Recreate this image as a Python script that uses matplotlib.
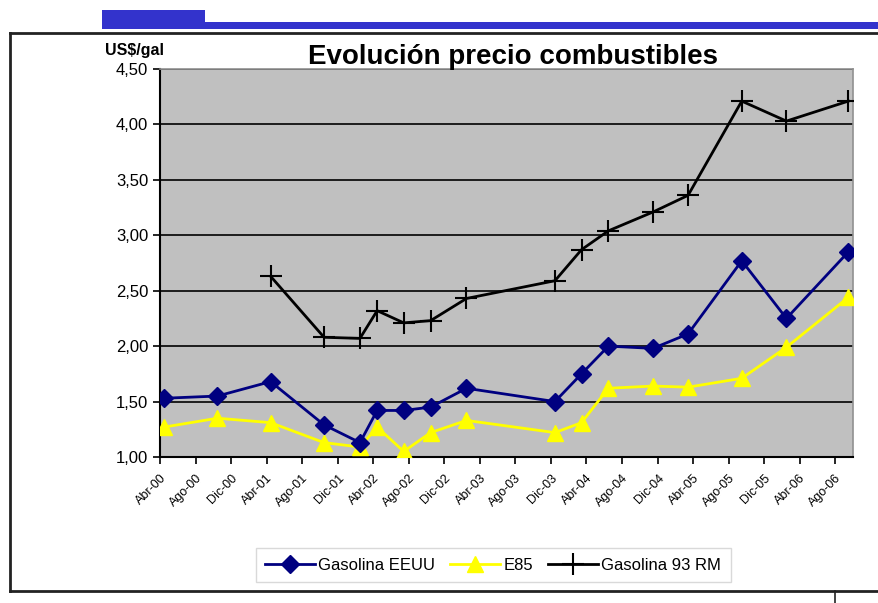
import pandas as pd
import numpy as np
import matplotlib
matplotlib.use('Agg')
import matplotlib.pyplot as plt
from matplotlib.patches import Rectangle
from matplotlib.lines import Line2D

plt.rcParams['font.family'] = ['Liberation Sans', 'DejaVu Sans']

# Data (US$/gal)
fechas = ['2000-04-15', '2000-10-15', '2001-04-15', '2001-10-15', '2002-02-15',
          '2002-04-15', '2002-07-15', '2002-10-15', '2003-02-15', '2003-12-15',
          '2004-03-15', '2004-06-15', '2004-11-15', '2005-03-15', '2005-09-15',
          '2006-02-15', '2006-09-15']
gasolina_eeuu = [1.53, 1.55, 1.68, 1.29, 1.13, 1.42, 1.42, 1.45, 1.62, 1.50,
                 1.75, 2.00, 1.98, 2.11, 2.77, 2.25, 2.85]
e85 = [1.27, 1.35, 1.31, 1.13, 1.09, 1.27, 1.05, 1.22, 1.33, 1.22,
       1.31, 1.62, 1.64, 1.63, 1.71, 1.99, 2.44]
gasolina_93 = [np.nan, np.nan, 2.63, 2.08, 2.07, 2.32, 2.21, 2.23, 2.43, 2.59,
               2.87, 3.04, 3.21, 3.36, 4.21, 4.03, 4.21]

tick_fechas = pd.date_range('2000-04-01', '2006-08-01', freq='4MS')
meses = {4: 'Abr', 8: 'Ago', 12: 'Dic'}
tick_labels = [meses[d.month] + '-' + d.strftime('%y') for d in tick_fechas]
y_ticks = [1.0, 1.5, 2.0, 2.5, 3.0, 3.5, 4.0, 4.5]

x = pd.to_datetime(fechas)

fig = plt.figure(figsize=(8.79, 6.03), dpi=100)
ax = fig.add_axes([0.182, 0.2421, 0.7884, 0.6435])
ax.set_facecolor('#C0C0C0')

ax.plot(x, gasolina_eeuu, color='#000080', lw=2, marker='D', ms=9, label='Gasolina EEUU', zorder=4)
ax.plot(x, e85, color='#FFFF00', lw=2, marker='^', ms=12, label='E85', zorder=3)
ax.plot(x, gasolina_93, color='black', lw=2, marker='+', ms=16, mew=1.5, label='Gasolina 93 RM', zorder=5)

ax.set_xlim(pd.Timestamp('2000-04-01'), pd.Timestamp('2006-10-01'))
ax.set_ylim(1.0, 4.5)
ax.set_yticks(y_ticks)
ax.set_yticklabels([('%.2f' % v).replace('.', ',') for v in y_ticks], fontsize=12)
ax.set_xticks(tick_fechas)
ax.set_xticklabels(tick_labels, rotation=45, ha='right', rotation_mode='anchor', fontsize=9)
ax.tick_params(axis='both', direction='out', length=5, width=1.2, color='black')
ax.tick_params(axis='x', pad=6)

ax.grid(axis='y', color='black', lw=1.2)
ax.set_axisbelow('line')
for s in ['top', 'right']:
    ax.spines[s].set_color('#909090')
    ax.spines[s].set_linewidth(1.2)
for s in ['left', 'bottom']:
    ax.spines[s].set_color('black')
    ax.spines[s].set_linewidth(1.5)

fig.text(0.584, 0.906, 'Evolución precio combustibles', ha='center', va='center',
         fontsize=20, fontweight='bold')
fig.text(0.153, 0.916, 'US$/gal', ha='center', va='center', fontsize=11.5, fontweight='bold')

leg = fig.legend(loc='center', bbox_to_anchor=(0.561, 0.063), ncol=3, fontsize=12,
                 frameon=True, fancybox=False, handlelength=3.0, columnspacing=0.9,
                 handletextpad=0.2, borderpad=0.55)
leg.get_frame().set_edgecolor('#D0D0D0')
leg.get_frame().set_linewidth(1)

# page decorations
fig.add_artist(Rectangle((0.116, 0.952), 0.117, 0.031, transform=fig.transFigure,
                         color='#3333CC', lw=0))
fig.add_artist(Rectangle((0.233, 0.952), 0.767, 0.0115, transform=fig.transFigure,
                         color='#3333CC', lw=0))
fig.add_artist(Line2D([0.0114, 1.0], [0.945, 0.945], transform=fig.transFigure, color='#222222', lw=2))
fig.add_artist(Line2D([0.0114, 0.0114], [0.945, 0.0199], transform=fig.transFigure, color='#222222', lw=2))
fig.add_artist(Line2D([0.0114, 1.0], [0.0199, 0.0199], transform=fig.transFigure, color='#222222', lw=2))
fig.add_artist(Line2D([0.95, 0.95], [0.0199, 0.0], transform=fig.transFigure, color='#222222', lw=1.2))

fig.savefig('out.png', dpi=100)
